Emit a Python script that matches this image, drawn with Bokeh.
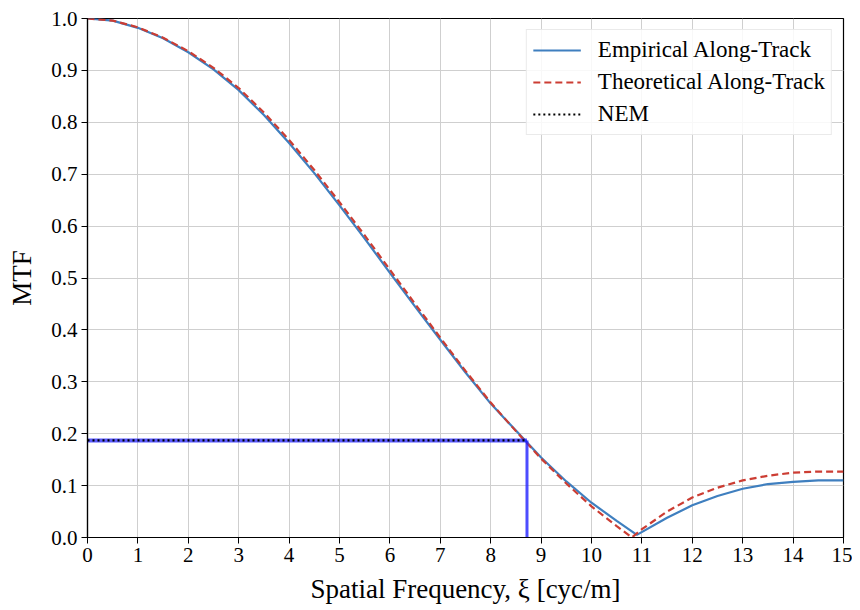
from bokeh.plotting import figure
from bokeh.models import Legend, LegendItem, FixedTicker, Range1d
from bokeh.embed import file_html
from bokeh.resources import INLINE

# Empirical along-track MTF
emp_x = [0, 0.5, 1, 1.5, 2, 2.5, 3, 3.5, 4, 4.5, 5, 5.5, 6, 6.5, 7, 7.5, 8, 8.5, 9, 9.5, 10, 10.5, 10.9,
         11.5, 12, 12.5, 13, 13.5, 14, 14.5, 15]
emp_y = [1.000, 0.996, 0.982, 0.962, 0.935, 0.902, 0.862, 0.814, 0.760, 0.702, 0.640, 0.576, 0.510, 0.445,
         0.381, 0.318, 0.258, 0.206, 0.154, 0.108, 0.067, 0.032, 0.005,
         0.038, 0.062, 0.080, 0.094, 0.103, 0.107, 0.110, 0.110]

# Theoretical along-track MTF
th_x = [0, 0.5, 1, 1.5, 2, 2.5, 3, 3.5, 4, 4.5, 5, 5.5, 6, 6.5, 7, 7.5, 8, 8.5, 9, 9.5, 10, 10.5, 10.8,
        11, 11.5, 12, 12.5, 13, 13.5, 14, 14.5, 15]
th_y = [1.000, 0.996, 0.983, 0.963, 0.937, 0.905, 0.866, 0.819, 0.766, 0.708, 0.646, 0.582, 0.516, 0.450,
        0.385, 0.321, 0.260, 0.205, 0.152, 0.104, 0.060, 0.022, 0.000,
        0.016, 0.050, 0.077, 0.096, 0.110, 0.119, 0.125, 0.127, 0.127]

# Noise-equivalent modulation point
nem_x = 8.72
nem_y = 0.187

x_ticks = list(range(0, 16))
y_ticks = [0.0, 0.1, 0.2, 0.3, 0.4, 0.5, 0.6, 0.7, 0.8, 0.9, 1.0]

FONT = "Liberation Serif"

p = figure(frame_width=756, frame_height=519, min_border_left=87, min_border_top=18,
           min_border_right=9, min_border_bottom=66,
           output_backend="svg", toolbar_location=None,
           x_range=Range1d(0, 15), y_range=Range1d(0, 1))

p.outline_line_color = "black"
p.outline_line_width = 1.2

for ax in (p.xaxis, p.yaxis):
    ax.major_label_text_font = FONT
    ax.major_label_text_font_size = "21px"
    ax.major_label_text_color = "black"
    ax.axis_label_text_font = FONT
    ax.axis_label_text_font_style = "normal"
    ax.axis_label_text_color = "black"
    ax.axis_line_color = "black"
    ax.axis_line_width = 1.2
    ax.major_tick_line_color = "black"
    ax.major_tick_in = 0
    ax.major_tick_out = 6
    ax.minor_tick_line_color = None
    ax.major_label_standoff = 4

p.xaxis.ticker = FixedTicker(ticks=x_ticks)
p.yaxis.ticker = FixedTicker(ticks=y_ticks)
p.yaxis.major_label_overrides = {v: f"{v:.1f}" for v in y_ticks}
p.xaxis.axis_label = "Spatial Frequency, \u03be [cyc/m]"
p.yaxis.axis_label = "MTF"
p.xaxis.axis_label_text_font_size = "27px"
p.yaxis.axis_label_text_font_size = "27px"
p.xaxis.axis_label_standoff = 9
p.yaxis.axis_label_standoff = 11

p.xgrid.ticker = FixedTicker(ticks=x_ticks)
p.ygrid.ticker = FixedTicker(ticks=y_ticks)
p.grid.grid_line_color = "#cfcfcf"
p.grid.grid_line_width = 1

r_emp = p.line(emp_x, emp_y, line_color="#3f7fbf", line_width=2.2)
r_th = p.line(th_x, th_y, line_color="#cc3d33", line_width=2.2, line_dash="7 4")

# NEM guide lines
p.line([nem_x, nem_x], [0, nem_y], line_color="#2020ff", line_width=3, line_alpha=0.8)
p.line([0, nem_x], [nem_y, nem_y], line_color="#2020ff", line_width=4, line_alpha=0.75)
r_nem = p.line([0, nem_x], [nem_y, nem_y], line_color="black", line_width=2.2, line_dash="2 3")

legend = Legend(items=[
    LegendItem(label="Empirical Along-Track", renderers=[r_emp]),
    LegendItem(label="Theoretical Along-Track", renderers=[r_th]),
    LegendItem(label="NEM", renderers=[r_nem]),
], location="top_right")
legend.label_text_font = FONT
legend.label_text_font_size = "23px"
legend.label_text_color = "black"
legend.label_height = 28
legend.glyph_height = 28
legend.glyph_width = 48
legend.label_standoff = 17
legend.spacing = 4
legend.padding = 6
legend.margin = 11
legend.border_line_color = "#d5d5d5"
legend.border_line_width = 1
legend.background_fill_alpha = 0.85
p.add_layout(legend)

open("out.html", "w").write(file_html(p, INLINE))
